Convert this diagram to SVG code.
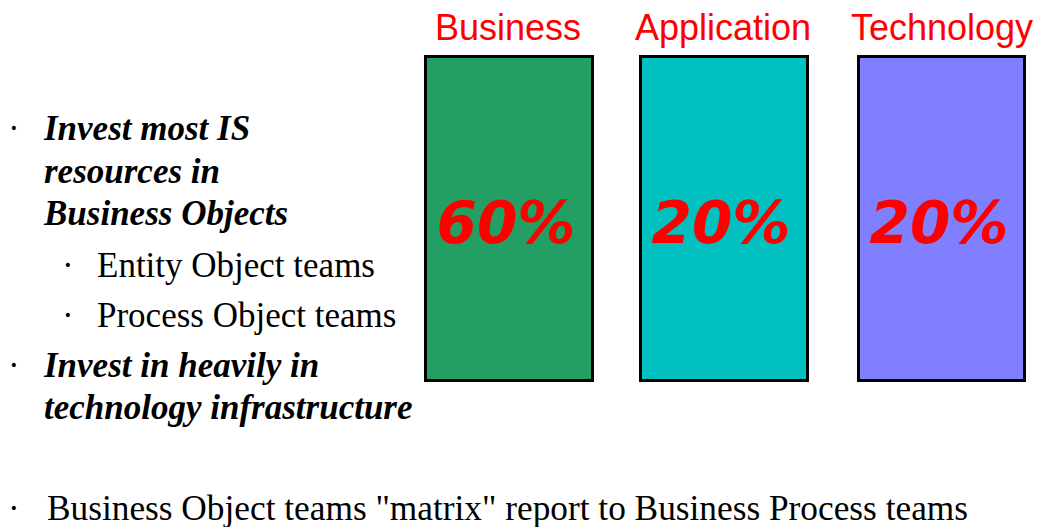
<svg xmlns="http://www.w3.org/2000/svg" width="1041" height="527" viewBox="0 0 1041 527">
<style>
.hdr{font-family:"Liberation Sans",Arial,sans-serif;font-size:36px;fill:#ff0000;text-anchor:middle}
.pct{font-family:"DejaVu Sans",sans-serif;font-size:58px;font-style:italic;font-weight:bold;fill:#ff0000;text-anchor:middle}
.bi{font-family:"Liberation Serif","Times New Roman",serif;font-size:35px;font-style:italic;font-weight:bold;fill:#000}
.rg{font-family:"Liberation Serif","Times New Roman",serif;font-size:35px;fill:#000}
.box{stroke:#000;stroke-width:3}
</style>
<rect width="1041" height="527" fill="#fff"/>
<g id="left-text">
<text class="rg" x="8" y="140">·</text>
<text class="bi" x="44" y="140">Invest most IS</text>
<text class="bi" x="44" y="183">resources in</text>
<text class="bi" x="44" y="225">Business Objects</text>
<text class="rg" x="62" y="277">·</text>
<text class="rg" x="97" y="277">Entity Object teams</text>
<text class="rg" x="62" y="327">·</text>
<text class="rg" x="97" y="327">Process Object teams</text>
<text class="rg" x="8" y="377">·</text>
<text class="bi" x="44" y="377">Invest in heavily in</text>
<text class="bi" x="44" y="419">technology infrastructure</text>
</g>
<g id="business">
<text class="hdr" x="508" y="40">Business</text>
<rect class="box" x="425.5" y="56.5" width="167" height="324" fill="#239f63"/>
<text class="pct" x="506" y="243">60%</text>
</g>
<g id="application">
<text class="hdr" x="723" y="40">Application</text>
<rect class="box" x="640.5" y="56.5" width="167" height="324" fill="#00c0c0"/>
<text class="pct" x="721" y="243">20%</text>
</g>
<g id="technology">
<text class="hdr" x="942" y="40">Technology</text>
<rect class="box" x="858.5" y="56.5" width="166" height="324" fill="#8080ff"/>
<text class="pct" x="939" y="243">20%</text>
</g>
<g id="connectors"/>
<g id="bottom-text">
<text class="rg" x="8" y="520">·</text>
<text class="rg" x="47" y="520" textLength="921" lengthAdjust="spacingAndGlyphs">Business Object teams "matrix" report to Business Process teams</text>
</g>
</svg>
